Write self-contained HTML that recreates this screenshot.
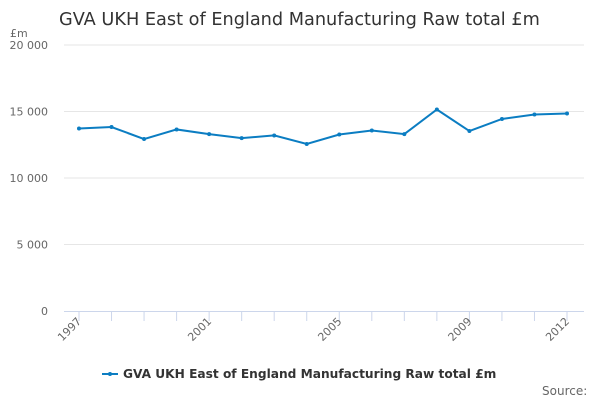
<!DOCTYPE html>
<html><head><meta charset="utf-8"><style>
body{margin:0;background:#fff;font-family:"Liberation Sans","DejaVu Sans",sans-serif}
</style></head><body>
<svg width="600" height="400" xmlns="http://www.w3.org/2000/svg" font-family="DejaVu Sans, Liberation Sans, sans-serif">
<text x="59" y="25" font-size="17.7" fill="#333">GVA UKH East of England Manufacturing Raw total £m</text>
<text x="10" y="37" font-size="11" fill="#666">£m</text>
<g id="grid"></g><g id="xaxis"></g><g id="series"></g>
<g>
<line x1="102" y1="374" x2="118" y2="374" stroke="#0b7dc2" stroke-width="2"/>
<circle cx="110" cy="374" r="2" fill="#0b7dc2"/>
<text x="123" y="378" font-size="12.2" font-weight="bold" fill="#333">GVA UKH East of England Manufacturing Raw total £m</text>
</g>
<text x="542" y="395" font-size="12" fill="#666">Source:</text>
</svg>
<script>
const years=[1997,1998,1999,2000,2001,2002,2003,2004,2005,2006,2007,2008,2009,2010,2011,2012];
const values=[13720,13830,12930,13650,13300,13000,13200,12560,13270,13570,13300,15150,13530,14440,14770,14850];
const yTicks=[0,5000,10000,15000,20000];
const yTickLabels=["0","5 000","10 000","15 000","20 000"];
const xLabels=["1997","2001","2005","2009","2012"];
const NS="http://www.w3.org/2000/svg";
const x=i=>79+i*(488/(years.length-1));
const y=v=>311-v*(266/20000);
function mk(t,a,p){const e=document.createElementNS(NS,t);for(const k in a)e.setAttribute(k,a[k]);p.appendChild(e);return e;}
const grid=document.getElementById('grid');
yTicks.forEach((t,i)=>{
 if(t>0){const l=mk('line',{x1:64,x2:584,y1:y(t),y2:y(t),stroke:'#e6e6e6'},grid);
 
 }
 const tx=mk('text',{x:48,y:y(t)+4,'font-size':11,fill:'#666','text-anchor':'end'},grid);
 tx.textContent=yTickLabels[i];
 
 
});
const xa=document.getElementById('xaxis');
const ax=mk('line',{x1:64,x2:584,y1:311.5,y2:311.5,stroke:'#ccd6eb'},xa);


years.forEach((yr,i)=>{
 const t=mk('line',{x1:x(i),x2:x(i),y1:311,y2:321,stroke:'#ccd6eb'},xa);
 
 
 if(xLabels.includes(String(yr))){
  const tx=mk('text',{x:x(i)+3,y:322,'font-size':11,fill:'#666','text-anchor':'end',transform:`rotate(-45 ${x(i)+3} 322)`},xa);
  tx.textContent=String(yr);
  
  
 }
});
const s=document.getElementById('series');
const p=mk('polyline',{points:values.map((v,i)=>x(i)+','+y(v)).join(' '),fill:'none',stroke:'#0b7dc2','stroke-width':2},s);


values.forEach((v,i)=>{
 const c=mk('circle',{cx:x(i),cy:y(v),r:2,fill:'#0b7dc2'},s);
 
 
});
</script>
</body></html>
